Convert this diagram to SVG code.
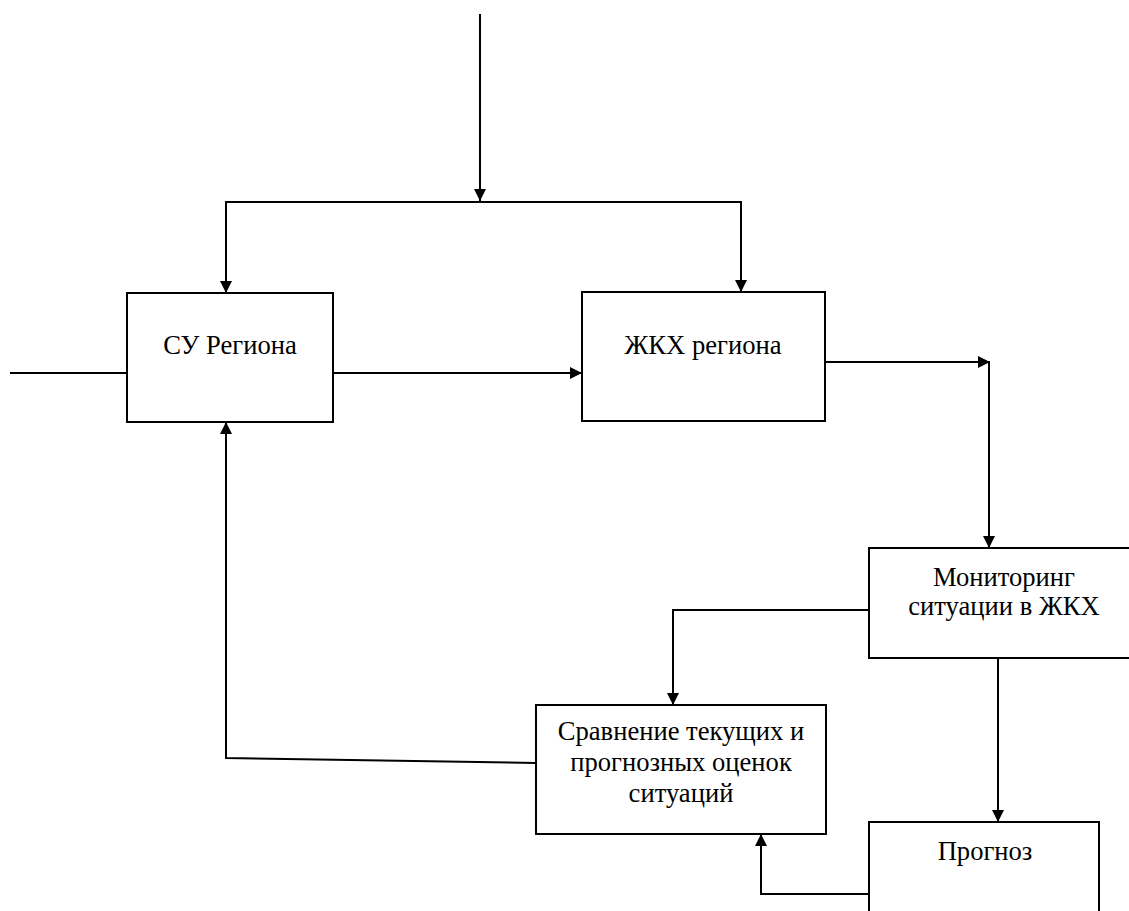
<svg xmlns="http://www.w3.org/2000/svg" width="1129" height="911" viewBox="0 0 1129 911">
<style>
.box{fill:#fff;stroke:#000;stroke-width:2}
.ln{fill:none;stroke:#000;stroke-width:2}
.t{font-size:26.6px;text-anchor:middle;fill:#000}
</style>
<defs>
<marker id="ah" markerWidth="12" markerHeight="12" refX="12" refY="6" orient="auto" markerUnits="userSpaceOnUse">
<path d="M0,0 L12,6 L0,12 Z" fill="#000"/>
</marker>
</defs>
<rect width="1129" height="911" fill="#fff"/>
<g id="connectors">
<line class="ln" x1="480" y1="14" x2="480" y2="201" marker-end="url(#ah)"/>
<polyline class="ln" points="226,293 226,202 741,202 741,292"/>
<line class="ln" x1="226" y1="260" x2="226" y2="293" marker-end="url(#ah)"/>
<line class="ln" x1="741" y1="260" x2="741" y2="292" marker-end="url(#ah)"/>
<line class="ln" x1="10" y1="373" x2="127" y2="373"/>
<line class="ln" x1="333" y1="373" x2="582" y2="373" marker-end="url(#ah)"/>
<line class="ln" x1="825" y1="362" x2="990" y2="362" marker-end="url(#ah)"/>
<line class="ln" x1="989" y1="362" x2="989" y2="548" marker-end="url(#ah)"/>
<polyline class="ln" points="869,610 673,610 673,705"/>
<line class="ln" x1="673" y1="660" x2="673" y2="705" marker-end="url(#ah)"/>
<line class="ln" x1="998" y1="658" x2="998" y2="822" marker-end="url(#ah)"/>
<polyline class="ln" points="536,763 226,758 226,422"/>
<line class="ln" x1="226" y1="500" x2="226" y2="422" marker-end="url(#ah)"/>
<polyline class="ln" points="869,894 761,894 761,834"/>
<line class="ln" x1="761" y1="870" x2="761" y2="834" marker-end="url(#ah)"/>
</g>
<g id="su-region">
<rect class="box" x="127" y="293" width="206" height="129"/>
<text class="t" font-family="Liberation Serif, Tinos, serif" x="230" y="354">СУ Региона</text>
</g>
<g id="zhkh-region">
<rect class="box" x="582" y="292" width="243" height="129"/>
<text class="t" font-family="Liberation Serif, Tinos, serif" x="703" y="354">ЖКХ региона</text>
</g>
<g id="monitoring">
<rect class="box" x="869" y="548" width="272" height="110"/>
<text class="t" font-family="Liberation Serif, Tinos, serif" x="1004" y="586">Мониторинг</text>
<text class="t" font-family="Liberation Serif, Tinos, serif" x="1004" y="615">ситуации в ЖКХ</text>
</g>
<g id="comparison">
<rect class="box" x="536" y="705" width="290" height="129"/>
<text class="t" font-family="Liberation Serif, Tinos, serif" x="681" y="740">Сравнение текущих и</text>
<text class="t" font-family="Liberation Serif, Tinos, serif" x="681" y="771">прогнозных оценок</text>
<text class="t" font-family="Liberation Serif, Tinos, serif" x="681" y="802">ситуаций</text>
</g>
<g id="forecast">
<rect class="box" x="869" y="822" width="230" height="100"/>
<text class="t" font-family="Liberation Serif, Tinos, serif" x="985" y="860">Прогноз</text>
</g>
</svg>
